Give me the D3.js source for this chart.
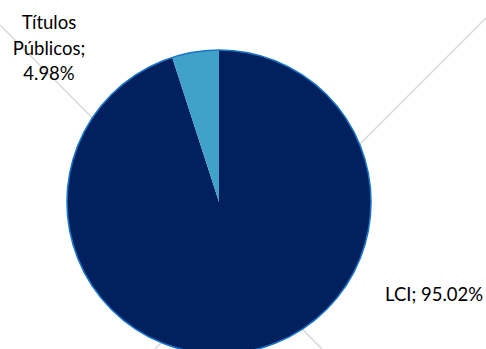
<!DOCTYPE html>
<html><head><meta charset="utf-8">
<script src="https://cdn.jsdelivr.net/npm/d3@7"></script>
<style>body{margin:0;background:#fff}svg{display:block}</style>
</head><body>
<svg id="c" width="486" height="349"></svg>
<script>
const categories = ["LCI", "Títulos Públicos"];
const values = [95.02, 4.98];
const colors = ["#00215e", "#41a2c9"];
const labelLines = [["LCI; 95.02%"], ["Títulos", "Públicos;", "4.98%"]];

const svg = d3.select("#c");
const cx = 219, cy = 202, r = 152;

// leader-like guide lines behind the pie
const guides = [[[0, 25], [322, 349]], [[486, 18], [153, 351]]];
svg.selectAll("line.g").data(guides).enter().append("line")
  .attr("x1", d => d[0][0]).attr("y1", d => d[0][1])
  .attr("x2", d => d[1][0]).attr("y2", d => d[1][1])
  .attr("stroke", "#d9d9d9").attr("stroke-width", 1.5);

const pie = d3.pie().sort(null).value(d => d)(values);
const arc = d3.arc().innerRadius(0).outerRadius(r);
const g = svg.append("g").attr("transform", `translate(${cx},${cy})`);
g.selectAll("path").data(pie).enter().append("path")
  .attr("d", arc).attr("fill", (d, i) => colors[i]);
g.append("circle").attr("r", r).attr("fill", "none")
  .attr("stroke", "#1a75c9").attr("stroke-width", 1.6);

const font = "Lato, 'Noto Sans', sans-serif";
// LCI label
svg.append("text").attr("x", 385).attr("y", 301)
  .attr("font-family", font).attr("font-size", 18.5).attr("fill", "#000")
  .text(labelLines[0][0]);
// Títulos label
const t = svg.append("text").attr("font-family", font).attr("font-size", 18.5)
  .attr("fill", "#000").attr("text-anchor", "middle");
labelLines[1].forEach((s, i) => {
  t.append("tspan").attr("x", 49).attr("y", 29 + i * 25.5).text(s);
});
</script>
</body></html>
